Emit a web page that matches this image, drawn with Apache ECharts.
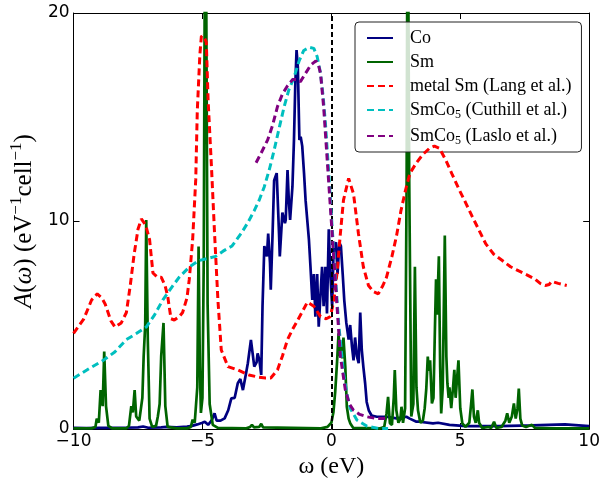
<!DOCTYPE html>
<html>
<head>
<meta charset="utf-8">
<script src="https://cdn.jsdelivr.net/npm/echarts@6/dist/echarts.min.js"></script>
<style>
html,body{margin:0;padding:0;background:#fff;}
#chart{width:603px;height:484px;}
</style>
</head>
<body>
<div id="chart"></div>
<script>
// ---- data (omega in eV, A(omega)) ----
const xTicks = [-10, -5, 0, 5, 10];
const yTicks = [0, 10, 20];

const coData = [[-10,0.05],[-9.5,0.04],[-9,0.06],[-8.5,0.05],[-8,0.06],[-7.5,0.08],[-7.3,0.12],[-7.1,0.06],[-6.6,0.08],[-6.4,0.1],[-6,0.08],[-5.6,0.12],[-5.4,0.15],[-5.2,0.22],[-5.0,0.3],[-4.91,0.35],[-4.78,0.2],[-4.65,0.4],[-4.53,0.75],[-4.45,0.4],[-4.3,0.4],[-4.14,0.51],[-4.0,0.9],[-3.88,1.47],[-3.75,1.5],[-3.63,2.2],[-3.53,2.4],[-3.43,1.87],[-3.31,2.67],[-3.24,3.16],[-3.12,4.28],[-3.05,3.6],[-2.99,3.0],[-2.9,3.2],[-2.86,3.64],[-2.79,3.3],[-2.72,2.6],[-2.67,5.9],[-2.6,8.8],[-2.5,8.3],[-2.45,9.4],[-2.38,8.0],[-2.35,6.7],[-2.28,9.4],[-2.22,11.95],[-2.12,12.3],[-2.03,9.4],[-2.0,8.3],[-1.9,10.4],[-1.8,9.9],[-1.77,10.05],[-1.70,12.45],[-1.65,11.0],[-1.6,10.05],[-1.51,11.65],[-1.45,13.9],[-1.4,16.5],[-1.35,18.22],[-1.3,17.4],[-1.24,13.9],[-1.19,14.05],[-1.13,13.6],[-1.06,12.3],[-1.0,11.0],[-0.94,11.0],[-0.87,9.1],[-0.81,7.8],[-0.74,6.2],[-0.68,7.45],[-0.62,5.4],[-0.55,7.45],[-0.49,4.92],[-0.42,6.5],[-0.36,7.8],[-0.30,5.9],[-0.23,7.8],[-0.17,5.56],[-0.10,9.6],[-0.04,7.45],[0.03,5.9],[0.09,8.8],[0.18,8.97],[0.24,7.45],[0.31,8.97],[0.37,8.8],[0.44,7.45],[0.50,6.2],[0.58,5.1],[0.67,4.3],[0.73,5.0],[0.80,3.96],[0.86,3.3],[0.92,4.4],[0.99,3.5],[1.06,3.16],[1.12,5.6],[1.18,3.8],[1.24,3.0],[1.31,2.2],[1.37,1.3],[1.45,0.9],[1.56,0.65],[1.76,0.59],[2.14,0.59],[2.53,0.51],[2.91,0.59],[3.04,0.5],[3.3,0.35],[3.42,0.35],[3.94,0.27],[4.14,0.3],[4.58,0.2],[5.22,0.14],[6.5,0.14],[7.78,0.17],[9.06,0.22],[10,0.14]];

const smData = [[-10,0.03],[-9.3,0.03],[-9.15,0.1],[-9.1,0.5],[-9.02,0.3],[-8.95,1.87],[-8.9,1.5],[-8.87,1.1],[-8.81,3.72],[-8.74,1.1],[-8.65,0.15],[-8.5,0.03],[-7.95,0.03],[-7.85,0.15],[-7.76,1.1],[-7.7,0.8],[-7.63,1.87],[-7.57,0.6],[-7.45,0.4],[-7.33,1.5],[-7.28,3.5],[-7.22,5],[-7.18,10.05],[-7.12,4.3],[-7.05,0.5],[-6.95,0.1],[-6.8,0.15],[-6.73,0.6],[-6.66,1.2],[-6.6,3.5],[-6.51,5.1],[-6.44,1.1],[-6.35,0.1],[-6.0,0.03],[-5.6,0.03],[-5.45,0.1],[-5.38,0.45],[-5.3,0.3],[-5.2,2.0],[-5.15,8.77],[-5.1,3.0],[-5.06,0.77],[-5.0,1.5],[-4.95,8],[-4.9,25],[-4.85,20],[-4.8,6],[-4.72,1.2],[-4.6,0.2],[-4.4,0.05],[-3.3,0.03],[-3.15,0.1],[-3.08,0.2],[-3.0,0.08],[-2.8,0.1],[-2.72,0.25],[-2.65,0.08],[-0.4,0.03],[-0.15,0.1],[0.0,0.3],[0.08,0.8],[0.15,1.8],[0.22,3.2],[0.28,4.6],[0.33,3.5],[0.38,4.0],[0.42,3.4],[0.47,4.4],[0.54,3.0],[0.6,1.07],[0.67,0.5],[0.73,0.28],[0.85,0.05],[1.9,0.03],[2.05,0.1],[2.14,0.75],[2.2,1.55],[2.27,0.28],[2.35,0.2],[2.42,1.5],[2.46,2.84],[2.52,0.9],[2.6,0.3],[2.68,0.5],[2.72,1.07],[2.78,0.3],[2.86,1],[2.92,12],[2.96,28],[3.02,12],[3.1,0.6],[3.18,1.2],[3.24,7.8],[3.3,2],[3.36,0.9],[3.45,0.3],[3.55,0.4],[3.62,1.0],[3.68,1.9],[3.74,3.48],[3.78,2.8],[3.83,3.3],[3.9,1.23],[3.96,1.5],[4.02,5],[4.06,7.2],[4.1,5.5],[4.17,8.3],[4.22,3],[4.26,0.75],[4.32,2],[4.4,9.3],[4.46,3.5],[4.5,2.2],[4.55,1.5],[4.58,2.0],[4.65,1.0],[4.72,2.0],[4.77,2.84],[4.82,1.5],[4.88,2.5],[4.93,3.3],[5.0,1.0],[5.08,0.27],[5.2,0.1],[5.35,0.3],[5.42,1.2],[5.47,1.9],[5.53,0.6],[5.6,0.3],[5.68,0.9],[5.73,0.3],[5.85,0.05],[6.1,0.1],[6.2,0.05],[6.31,0.35],[6.4,0.05],[6.6,0.1],[6.75,0.4],[6.82,0.75],[6.9,0.3],[7.0,0.6],[7.08,1.23],[7.15,0.5],[7.22,1.0],[7.27,1.94],[7.33,0.5],[7.4,0.17],[7.55,0.1],[7.78,0.2],[7.9,0.05],[8.5,0.03],[10,0.03]];

const langData = [[-10,4.6],[-9.6,5.3],[-9.3,6.2],[-9.08,6.5],[-8.9,6.3],[-8.77,6.0],[-8.55,5.2],[-8.39,4.9],[-8.15,5.1],[-7.95,5.6],[-7.8,6.9],[-7.65,8.4],[-7.5,9.6],[-7.37,10.1],[-7.2,9.8],[-7.05,9.1],[-6.92,7.5],[-6.75,7.3],[-6.6,7.3],[-6.45,6.9],[-6.35,6.4],[-6.22,5.3],[-6.09,5.24],[-5.9,5.4],[-5.77,5.6],[-5.6,6.3],[-5.51,7.2],[-5.38,9.1],[-5.26,12.0],[-5.2,15.3],[-5.1,18.0],[-5.04,18.9],[-4.92,18.8],[-4.85,18.6],[-4.78,15.8],[-4.65,12.6],[-4.53,9.4],[-4.4,6.2],[-4.27,3.8],[-4.01,3.0],[-3.63,2.84],[-3.2,2.6],[-2.86,2.5],[-2.55,2.45],[-2.35,2.45],[-2.09,2.84],[-1.9,3.5],[-1.7,4.3],[-1.5,4.8],[-1.32,5.2],[-1.1,5.7],[-0.93,6.1],[-0.8,6.0],[-0.68,5.9],[-0.42,5.4],[-0.2,5.3],[-0.04,5.4],[0.1,6.2],[0.22,7.5],[0.35,9.4],[0.47,11.0],[0.67,12.05],[0.86,11.3],[1.05,9.4],[1.24,7.8],[1.44,6.9],[1.63,6.6],[1.82,6.5],[2.0,6.9],[2.14,7.3],[2.35,8.3],[2.53,9.3],[2.7,10.5],[2.88,11.5],[3.05,12.3],[3.3,12.8],[3.55,13.2],[3.81,13.5],[4.0,13.6],[4.19,13.5],[4.45,12.9],[4.7,12.2],[4.96,11.5],[5.2,10.9],[5.47,10.2],[5.75,9.5],[5.99,8.9],[6.3,8.4],[6.63,8.1],[6.95,7.8],[7.27,7.6],[7.6,7.4],[7.91,7.2],[8.1,7.0],[8.3,6.9],[8.45,6.95],[8.55,7.1],[8.8,7.0],[9.13,6.9]];

const cuthillData = [[-10,2.44],[-9.4,2.9],[-8.85,3.3],[-8.4,3.7],[-7.95,4.3],[-7.55,4.6],[-7.18,4.9],[-6.85,5.5],[-6.54,6.2],[-6.2,6.8],[-5.9,7.3],[-5.5,7.8],[-5.13,8.1],[-4.8,8.2],[-4.49,8.3],[-4.2,8.55],[-3.85,8.8],[-3.5,9.4],[-3.25,9.9],[-2.99,10.5],[-2.8,11.0],[-2.6,11.65],[-2.4,12.5],[-2.22,13.4],[-2.0,14.6],[-1.83,15.5],[-1.65,16.3],[-1.45,16.9],[-1.25,17.7],[-1.07,18.2],[-0.85,18.35],[-0.68,18.3],[-0.55,17.9],[-0.42,17.1],[-0.32,16.0],[-0.23,14.7],[-0.1,12.3],[0.03,9.7],[0.15,7.5],[0.28,5.1],[0.47,2.7],[0.6,1.7],[0.73,1.0],[0.99,0.43],[1.37,0.14],[1.82,0.03],[2.2,0.03]];

const lasloData = [[-2.92,12.8],[-2.73,13.25],[-2.47,13.9],[-2.28,14.6],[-2.09,15.5],[-1.9,16.1],[-1.7,16.5],[-1.5,16.8],[-1.32,16.8],[-1.2,16.7],[-1.0,17.1],[-0.8,17.5],[-0.6,17.7],[-0.5,17.5],[-0.42,17.1],[-0.3,15.5],[-0.17,13.1],[-0.04,10.7],[0.09,8.3],[0.22,5.9],[0.35,3.5],[0.54,1.9],[0.7,1.2],[0.86,0.9],[1.1,0.7],[1.37,0.59],[1.76,0.5],[2.14,0.5]];

const fermiLevel = 0;

const seriesNames = ['Co', 'Sm', 'metal Sm (Lang et al.)', 'SmCo5 (Cuthill et al.)', 'SmCo5 (Laslo et al.)'];

// ---- chart ----
const chart = echarts.init(document.getElementById('chart'), null, {renderer: 'canvas'});
const minus = v => String(v).replace('-', '\u2212');
const serif = 'Liberation Serif';

function lineSeries(name, data, color, dashed, z) {
  return {
    name: name, type: 'line', data: data, symbol: 'none', clip: true, z: z,
    animation: false,
    lineStyle: {color: color, width: dashed ? 3 : 2.7, type: dashed ? [7, 4] : 'solid'},
    itemStyle: {color: color}
  };
}

const axisCommon = {
  type: 'value', min: -10, max: 10, interval: 5,
  axisLine: {show: true, onZero: false, lineStyle: {color: '#000', width: 1}},
  axisTick: {show: true, inside: true, length: 6, lineStyle: {color: '#000', width: 1}},
  splitLine: {show: false}
};

const option = {
  backgroundColor: '#fff',
  animation: false,
  grid: {left: 71, right: 11, top: 13, bottom: 55, containLabel: false},
  xAxis: [
    Object.assign({}, axisCommon, {
      position: 'bottom',
      axisLabel: {color: '#000', fontSize: 17, fontFamily: 'DejaVu Sans', margin: 4, formatter: minus},
      name: 'ω (eV)', nameLocation: 'middle', nameGap: 23,
      nameTextStyle: {color: '#000', fontFamily: serif, fontSize: 24}
    }),
    Object.assign({}, axisCommon, {position: 'top', axisLabel: {show: false}})
  ],
  yAxis: [
    Object.assign({}, axisCommon, {
      min: 0, max: 20, interval: 10, position: 'left',
      axisLabel: {color: '#000', fontSize: 17, fontFamily: 'DejaVu Sans', margin: 4, formatter: minus},
      name: '{i|A}{r|(}{i|ω}{r|) (eV}{s|−1}{r|cell}{s|−1}{r|)}',
      nameLocation: 'middle', nameGap: 30, nameRotate: 90,
      nameTextStyle: {color: '#000', fontFamily: serif, fontSize: 25,
        rich: {
          i: {fontStyle: 'italic', fontFamily: serif, fontSize: 25, lineHeight: 29, verticalAlign: 'bottom'},
          r: {fontFamily: serif, fontSize: 25, lineHeight: 29, verticalAlign: 'bottom'},
          s: {fontFamily: serif, fontSize: 17, lineHeight: 17, verticalAlign: 'top'}
        }}
    }),
    Object.assign({}, axisCommon, {min: 0, max: 20, interval: 10, position: 'right', axisLabel: {show: false}})
  ],
  legend: {
    orient: 'vertical', left: 355, top: 22,
    padding: [7, 10, 5, 11],
    itemWidth: 26, itemHeight: 14, itemGap: 6,
    backgroundColor: 'rgba(255,255,255,0.82)',
    borderColor: '#222', borderWidth: 1, borderRadius: 4,
    itemStyle: {opacity: 0},
    data: seriesNames,
    formatter: function (name) {
      if (name.indexOf('SmCo5') === 0) {
        return '{n|SmCo}{b|5}{n|' + name.slice(5) + '}';
      }
      return '{n|' + name + '}';
    },
    textStyle: {
      color: '#000', fontFamily: serif, fontSize: 18, padding: [0, 0, 0, 12],
      rich: {
        n: {fontFamily: serif, fontSize: 18, lineHeight: 22, verticalAlign: 'middle'},
        b: {fontFamily: serif, fontSize: 12, lineHeight: 12, verticalAlign: 'bottom'}
      }
    }
  },
  series: [
    lineSeries(seriesNames[0], coData, '#000080', false, 2),
    lineSeries(seriesNames[1], smData, '#006400', false, 3),
    lineSeries(seriesNames[2], langData, '#ff0000', true, 4),
    lineSeries(seriesNames[3], cuthillData, '#00bfbf', true, 5),
    lineSeries(seriesNames[4], lasloData, '#800080', true, 6),
    {
      name: 'fermi', type: 'line', data: [], z: 7, silent: true,
      markLine: {
        silent: true, symbol: 'none', animation: false,
        label: {show: false},
        lineStyle: {color: '#000', width: 2, type: [5, 3]},
        data: [{xAxis: fermiLevel}]
      }
    }
  ]
};
chart.setOption(option);
</script>
</body>
</html>
